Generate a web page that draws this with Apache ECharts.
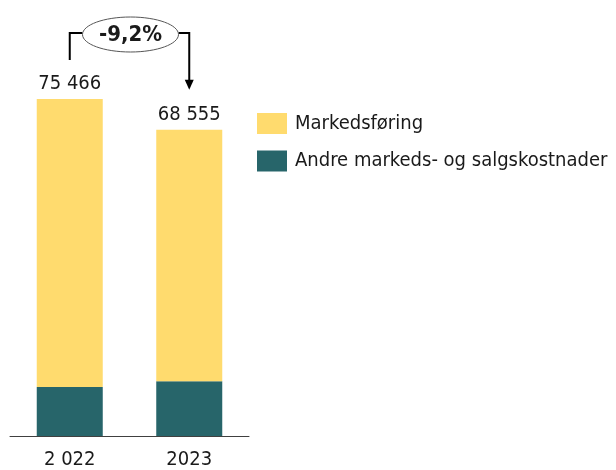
<!DOCTYPE html>
<html>
<head>
<meta charset="utf-8">
<script src="https://cdn.jsdelivr.net/npm/echarts@6/dist/echarts.min.js"></script>
<style>
  html, body { margin: 0; padding: 0; background: #fff; }
  #chart { width: 616px; height: 470px; }
</style>
</head>
<body>
<div id="chart"></div>
<script>
  // data
  var categories = ['2 022', '2023'];
  var markedsforing = [64520, 56280];
  var andre = [10946, 12275];
  var totalLabels = ['75 466', '68 555'];
  var totals = [75466, 68555];
  var changeLabel = '-9,2%';
  var seriesNames = ['Markedsføring', 'Andre markeds- og salgskostnader'];

  var font = 'DejaVu Sans Condensed';
  var chart = echarts.init(document.getElementById('chart'));

  chart.setOption({
    animation: false,
    textStyle: { fontFamily: font },
    grid: { left: 10, right: 367, top: 78.7, bottom: 33 },
    legend: {
      orient: 'vertical',
      left: 257,
      top: 113,
      padding: 0,
      itemWidth: 30,
      itemHeight: 21,
      itemGap: 16.5,
      icon: 'rect',
      textStyle: { fontFamily: font, fontSize: 20, color: '#1a1a1a', padding: [0, 0, 0, 3] },
      data: [seriesNames[0], seriesNames[1]]
    },
    xAxis: {
      type: 'category',
      data: categories,
      axisLine: { lineStyle: { color: '#404040', width: 1 } },
      axisTick: { show: false },
      axisLabel: { fontSize: 20, color: '#1a1a1a', margin: 14, fontFamily: font }
    },
    yAxis: {
      type: 'value',
      min: 0,
      max: 80000,
      show: false,
      splitLine: { show: false }
    },
    series: [
      {
        name: seriesNames[1],
        type: 'bar',
        stack: 'total',
        barWidth: 66,
        itemStyle: { color: '#27656A' },
        data: andre
      },
      {
        name: seriesNames[0],
        type: 'bar',
        stack: 'total',
        barWidth: 66,
        itemStyle: { color: '#FFDB6E' },
        label: {
          show: true,
          position: 'top',
          distance: 5,
          fontSize: 20,
          color: '#1a1a1a',
          fontFamily: font,
          formatter: function (p) { return totalLabels[p.dataIndex]; }
        },
        data: markedsforing
      }
    ]
  });

  // change annotation: bracket from bar 1 to arrow at bar 2
  var p1 = chart.convertToPixel({ xAxisIndex: 0, yAxisIndex: 0 }, [0, totals[0]]);
  var p2 = chart.convertToPixel({ xAxisIndex: 0, yAxisIndex: 0 }, [1, totals[1]]);
  var lineY = 33;
  var ex = 130.5, ey = 34.5, rx = 48, ry = 17.5;
  var arrowTip = p2[1] - 40;

  chart.setOption({
    graphic: [
      {
        type: 'polyline',
        shape: { points: [[p1[0], p1[1] - 39], [p1[0], lineY], [ex - rx, lineY]] },
        style: { stroke: '#000', lineWidth: 2, fill: null }
      },
      {
        type: 'polyline',
        shape: { points: [[ex + rx, lineY], [p2[0], lineY], [p2[0], arrowTip - 8]] },
        style: { stroke: '#000', lineWidth: 2, fill: null }
      },
      {
        type: 'polygon',
        shape: { points: [[p2[0] - 4.5, arrowTip - 10], [p2[0] + 4.5, arrowTip - 10], [p2[0], arrowTip]] },
        style: { fill: '#000' }
      },
      {
        type: 'ellipse',
        shape: { cx: ex, cy: ey, rx: rx, ry: ry },
        style: { fill: '#fff', stroke: '#555', lineWidth: 1 }
      },
      {
        type: 'text',
        x: ex,
        y: ey + 1,
        style: {
          text: changeLabel,
          fontFamily: font,
          fontSize: 22,
          fontWeight: 'bold',
          fill: '#1a1a1a',
          align: 'center',
          verticalAlign: 'middle'
        }
      }
    ]
  });
</script>
</body>
</html>
